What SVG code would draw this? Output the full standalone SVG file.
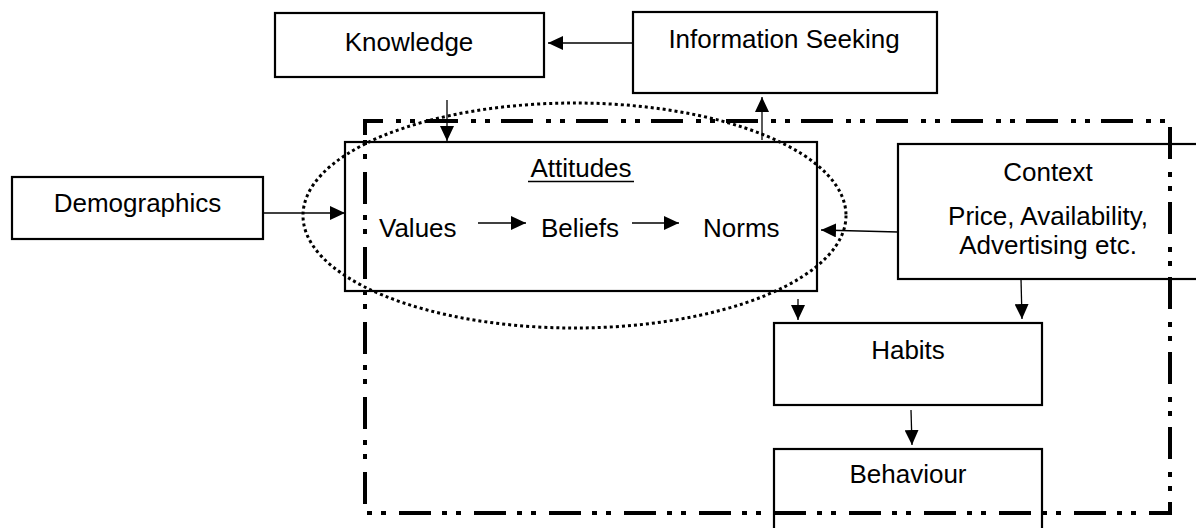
<svg xmlns="http://www.w3.org/2000/svg" width="1196" height="528" viewBox="0 0 1196 528">
<style>
.box{fill:#fff;stroke:#000;stroke-width:2.2}
.t{font-family:"Liberation Sans",Arial,sans-serif;font-size:26px;fill:#000}
.c{text-anchor:middle}
.con{stroke:#000;stroke-width:1.3;fill:none;marker-end:url(#ah)}
.border{fill:none;stroke:#000;stroke-width:4;stroke-dasharray:32 13 5 9 5 11}
.oval{fill:none;stroke:#000;stroke-width:3;stroke-dasharray:3 3}
</style>
<defs>
<marker id="ah" markerUnits="userSpaceOnUse" markerWidth="16" markerHeight="14" refX="15" refY="7" orient="auto">
<path d="M0,0 L15,7 L0,14 z" fill="#000"/>
</marker>
</defs>
<rect width="1196" height="528" fill="#fff"/>
<g id="knowledge"><rect class="box" x="275" y="13" width="269" height="64"/><text class="t c" x="409" y="51">Knowledge</text></g>
<g id="information-seeking"><rect class="box" x="633" y="12" width="304" height="81"/><text class="t c" x="784" y="48">Information Seeking</text></g>
<g id="demographics"><rect class="box" x="12" y="177" width="251" height="62"/><text class="t c" x="137.5" y="212">Demographics</text></g>
<g id="attitudes"><rect class="box" x="345" y="142" width="472" height="149"/>
<text class="t c" x="581" y="177">Attitudes</text><line x1="528" y1="181.5" x2="634" y2="181.5" stroke="#000" stroke-width="1.6"/>
<text class="t" x="379" y="237">Values</text><text class="t" x="541" y="237">Beliefs</text><text class="t" x="703" y="237">Norms</text></g>
<g id="context"><rect class="box" x="898" y="144" width="302" height="135"/>
<text class="t c" x="1048" y="181">Context</text><text class="t c" x="1048" y="225">Price, Availability,</text><text class="t c" x="1048" y="254">Advertising etc.</text></g>
<g id="habits"><rect class="box" x="774" y="323" width="268" height="82"/><text class="t c" x="908" y="359">Habits</text></g>
<g id="behaviour"><rect class="box" x="774" y="449" width="268" height="100"/><text class="t c" x="908" y="483">Behaviour</text></g>
<g id="boundary"><path class="border" d="M365,135 L365,121 L1170,121 L1170,513 L365,513 Z"/></g>
<g id="attitudes-oval"><ellipse class="oval" cx="574.5" cy="215.5" rx="271.5" ry="112.5"/></g>
<g id="connectors">
<line class="con" x1="633" y1="43" x2="548" y2="43"/>
<line class="con" x1="447" y1="100" x2="447" y2="141"/>
<line class="con" x1="762" y1="140" x2="762" y2="97"/>
<line class="con" x1="263" y1="213" x2="345" y2="213"/>
<line class="con" x1="478" y1="223" x2="526" y2="223"/>
<line class="con" x1="632" y1="223" x2="679" y2="223"/>
<line class="con" x1="898" y1="232" x2="821" y2="230"/>
<line class="con" x1="798" y1="299" x2="798" y2="320"/>
<line class="con" x1="1021" y1="279" x2="1022" y2="319"/>
<line class="con" x1="911" y1="410" x2="912" y2="445"/>
</g>
</svg>
